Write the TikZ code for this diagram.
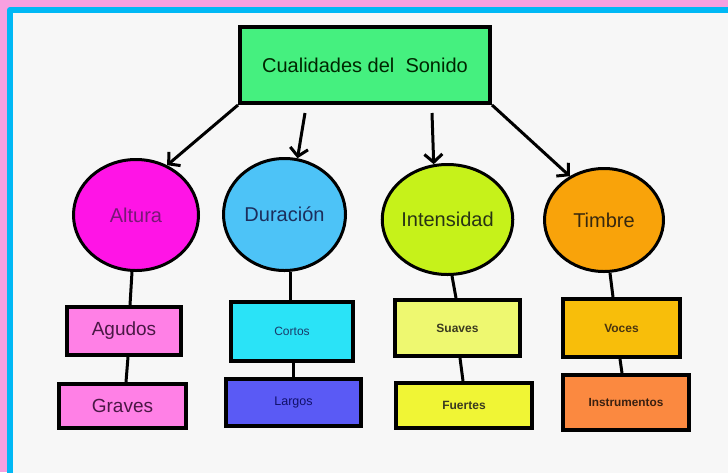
\documentclass[tikz,border=0pt]{standalone}
\usepackage{fontspec}
\setmainfont{Liberation Sans}
\usetikzlibrary{shapes.geometric,arrows.meta}
\definecolor{pinkb}{HTML}{F7A0E0}
\definecolor{cyanb}{HTML}{00B8F5}
\definecolor{bgc}{HTML}{F7F7F7}
\definecolor{topg}{HTML}{45F07F}
\definecolor{altc}{HTML}{FF14E6}
\definecolor{durc}{HTML}{4DC3F7}
\definecolor{intc}{HTML}{C6F21A}
\definecolor{timc}{HTML}{F9A30A}
\definecolor{agc}{HTML}{FF80E6}
\definecolor{corc}{HTML}{2AE3F7}
\definecolor{larc}{HTML}{5A5AF5}
\definecolor{suac}{HTML}{EEF870}
\definecolor{fuec}{HTML}{F0F535}
\definecolor{vocc}{HTML}{F8BE0A}
\definecolor{insc}{HTML}{FB8940}
\tikzset{
  circ/.style={ellipse, draw=black, line width=3pt, inner sep=0pt, font=\fontsize{20}{24}\selectfont},
  boxn/.style={rectangle, draw=black, line width=4pt, inner sep=0pt},
  conn/.style={line width=3pt, black},
  arr/.style={line width=3pt, black, -{Straight Barb[length=8pt,width=18pt]}}
}
\begin{document}
\begin{tikzpicture}[x=1pt,y=-1pt]
\useasboundingbox (0,0) rectangle (728,472);
\clip (0,0) rectangle (728,472);
\fill[pinkb] (0,0) rectangle (728,472);
\fill[cyanb, rounded corners=3pt] (7,7) rectangle (740,490);
\fill[bgc] (13,13) rectangle (740,490);

\node[boxn, fill=topg, minimum width=250pt, minimum height=76pt, font=\fontsize{20}{24}\selectfont, text=black!85!green] (top) at (365,65) {\raisebox{-5pt}{Cualidades del\ \ Sonido}};

\node[circ, fill=altc, minimum width=125pt, minimum height=111pt, text={rgb,255:red,120;green,24;blue,118}] (alt) at (136,215) {Altura};
\node[circ, fill=durc, minimum width=122pt, minimum height=112pt, text={rgb,255:red,28;green,46;blue,92}] (dur) at (284.5,214.5) {Duración};
\node[circ, fill=intc, minimum width=126pt, minimum height=110pt, text={rgb,255:red,40;green,52;blue,20}] (int) at (447.5,219.5) {Intensidad};
\node[circ, fill=timc, minimum width=119pt, minimum height=103pt, text={rgb,255:red,55;green,40;blue,15}] (tim) at (604,220) {Timbre};

\node[boxn, fill=agc, minimum width=114pt, minimum height=48pt, font=\fontsize{19}{23}\selectfont, text={rgb,255:red,74;green,24;blue,69}] (agu) at (124,331) {Agudos};
\node[boxn, fill=agc, minimum width=127pt, minimum height=44pt, font=\fontsize{19}{23}\selectfont, text={rgb,255:red,74;green,24;blue,69}] (gra) at (122.5,406) {Graves};
\node[boxn, fill=corc, minimum width=122pt, minimum height=59pt, font=\fontsize{12}{14}\selectfont, text={rgb,255:red,26;green,58;blue,106}] (cor) at (292,331.5) {Cortos};
\node[boxn, fill=larc, minimum width=135pt, minimum height=47pt, font=\fontsize{12.5}{15}\selectfont, text={rgb,255:red,16;green,16;blue,106}] (lar) at (293.5,402.5) {Largos};
\node[boxn, fill=suac, minimum width=125pt, minimum height=56pt, font=\fontsize{12}{14}\selectfont\bfseries, text={rgb,255:red,58;green,58;blue,32}] (sua) at (457.5,328) {Suaves};
\node[boxn, fill=fuec, minimum width=136pt, minimum height=45pt, font=\fontsize{12}{14}\selectfont\bfseries, text={rgb,255:red,58;green,58;blue,32}] (fue) at (464,405.5) {Fuertes};
\node[boxn, fill=vocc, minimum width=117pt, minimum height=58pt, font=\fontsize{12}{14}\selectfont\bfseries, text={rgb,255:red,74;green,53;blue,16}] (voc) at (621.5,328) {Voces};
\node[boxn, fill=insc, minimum width=126pt, minimum height=55pt, font=\fontsize{11.8}{14}\selectfont\bfseries, text={rgb,255:red,58;green,32;blue,16}] (ins) at (626,402.5) {Instrumentos};

\draw[arr] (top.south west) -- (alt.58);
\draw[arr] ([xshift=-60pt,yshift=-8pt]top.south) -- (dur.77);
\draw[arr] ([xshift=67pt,yshift=-8pt]top.south) -- (int.104);
\draw[arr] (top.south east) -- (tim.128);

\draw[conn] ([xshift=-4pt]alt.south) -- ([xshift=6pt]agu.north);
\draw[conn] ([xshift=4pt]agu.south) -- ([xshift=3.5pt]gra.north);
\draw[conn] ([xshift=5.5pt]dur.south) -- ([xshift=-2pt]cor.north);
\draw[conn] ([xshift=1pt]cor.south) -- ([xshift=-0.5pt]lar.north);
\draw[conn] ([xshift=4.5pt]int.south) -- ([xshift=-1.5pt]sua.north);
\draw[conn] ([xshift=2.5pt]sua.south) -- ([xshift=-1pt]fue.north);
\draw[conn] ([xshift=6pt]tim.south) -- ([xshift=-8.5pt]voc.north);
\draw[conn] ([xshift=-1.5pt]voc.south) -- ([xshift=-4pt]ins.north);
\end{tikzpicture}
\end{document}
